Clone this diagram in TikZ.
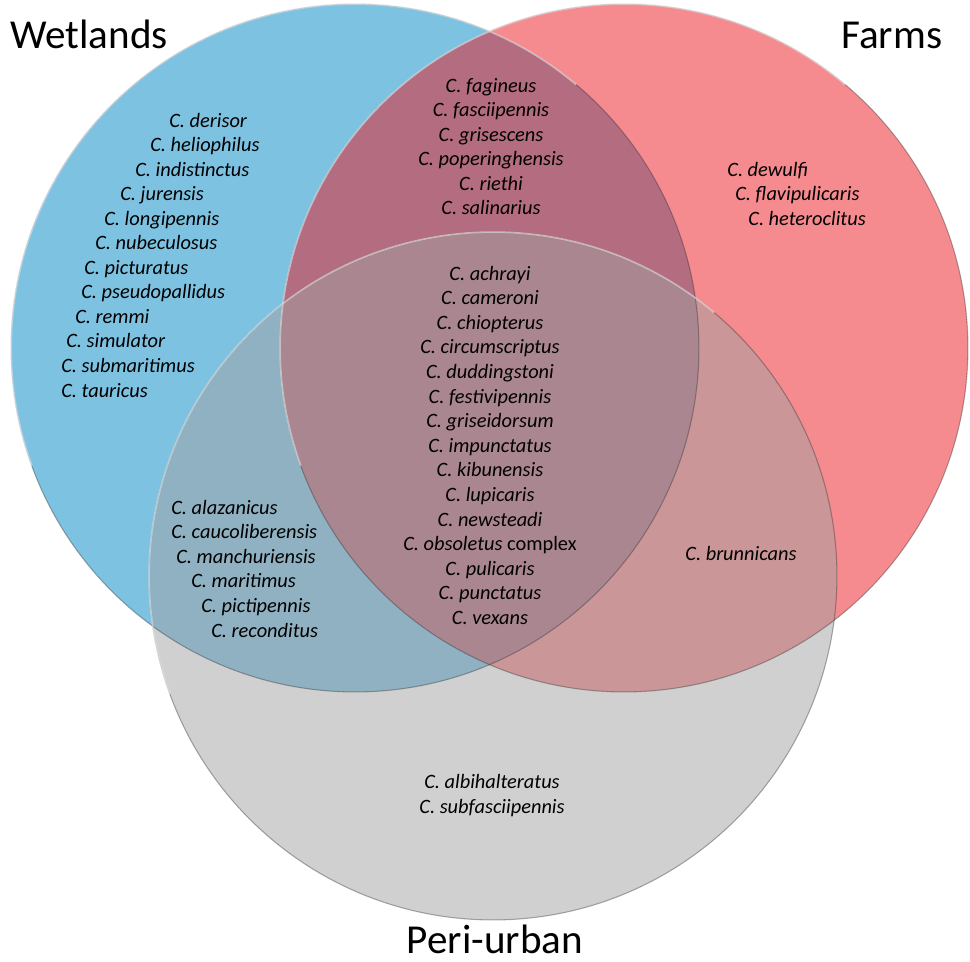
\documentclass[tikz,border=0pt]{standalone}
\usepackage{fontspec}
\setmainfont{Carlito}

\tikzset{
  spp/.style={font=\fontsize{11.6}{14}\selectfont\itshape, inner sep=0pt},
  setname/.style={font=\fontsize{23.4}{28}\selectfont, inner sep=0pt},
  rimdark/.style={draw=black!80, draw opacity=0.4, line width=0.6pt},
  rimlight/.style={draw=white, draw opacity=0.55, line width=0.9pt},
}

\begin{document}
\begin{tikzpicture}[x=0.02cm, y=-0.02cm]
    % colours taken from the three sets
    \definecolor{wetblue}{RGB}{126,194,226}
    \definecolor{farmred}{RGB}{235,23,31}
    \definecolor{urbgrey}{RGB}{161,161,161}

    \useasboundingbox (0,0) rectangle (970,961);

    % 1. The three circles
    \coordinate (wc) at (355,348);
    \coordinate (fc) at (624,348);
    \coordinate (uc) at (493,576);

    \fill[wetblue] (wc) circle[radius=6.88cm];
    \fill[farmred, fill opacity=0.5] (fc) circle[radius=6.88cm];
    \fill[urbgrey, fill opacity=0.5] (uc) circle[radius=6.88cm];

    % rims: dark all round, light above left
    \foreach \c in {wc, fc, uc} {
        \draw[rimdark] (\c) circle[radius=6.88cm];
        \draw[rimlight] (\c) ++(50:6.88cm) arc[start angle=50, end angle=200, radius=6.88cm];
    }

    % 2. Set names
    \node[setname, anchor=base west] (wetlands) at (10,48) {Wetlands};
    \node[setname, anchor=base west] (farms) at (841,48) {Farms};
    \node[setname, anchor=base] (periurban) at (495,953) {Peri-urban};

    % 3. Species, one line each
    % wetlands only
    \foreach \x/\spname [count=\i] in {169/derisor, 150/heliophilus, 135/indistinctus,
        120/jurensis, 104/longipennis, 95/nubeculosus, 84/picturatus,
        81/pseudopallidus, 75/remmi, 66/simulator, 61/submaritimus, 61/tauricus}
        \node[spp, anchor=base west] (w\i) at (\x, {127+24.55*(\i-1)}) {C. \spname};

    % farms only
    \foreach \x/\spname [count=\i] in {727/dewulfi, 735/flavipulicaris, 748/heteroclitus}
        \node[spp, anchor=base west] (f\i) at (\x, {176+24.55*(\i-1)}) {C. \spname};

    % wetlands and farms
    \foreach \spname [count=\i] in {fagineus, fasciipennis, grisescens,
        poperinghensis, riethi, salinarius}
        \node[spp, anchor=base] (wf\i) at (491, {92+24.55*(\i-1)}) {C. \spname};

    % all three
    \foreach \spname [count=\i] in {achrayi, cameroni, chiopterus, circumscriptus,
        duddingstoni, festivipennis, griseidorsum, impunctatus, kibunensis,
        lupicaris, newsteadi, {obsoletus \upshape complex}, pulicaris,
        punctatus, vexans}
        \node[spp, anchor=base] (all\i) at (490, {280+24.6*(\i-1)}) {C. \spname};

    % wetlands and peri-urban
    \foreach \x/\spname [count=\i] in {171/alazanicus, 171/caucoliberensis,
        176/manchuriensis, 191/maritimus, 201/pictipennis, 211/reconditus}
        \node[spp, anchor=base west] (wu\i) at (\x, {514+24.6*(\i-1)}) {C. \spname};

    % farms and peri-urban
    \node[spp, anchor=base] (fu1) at (741,560) {C. brunnicans};

    % peri-urban only
    \foreach \spname [count=\i] in {albihalteratus, subfasciipennis}
        \node[spp, anchor=base] (u\i) at (492, {788+25*(\i-1)}) {C. \spname};
\end{tikzpicture}
\end{document}
